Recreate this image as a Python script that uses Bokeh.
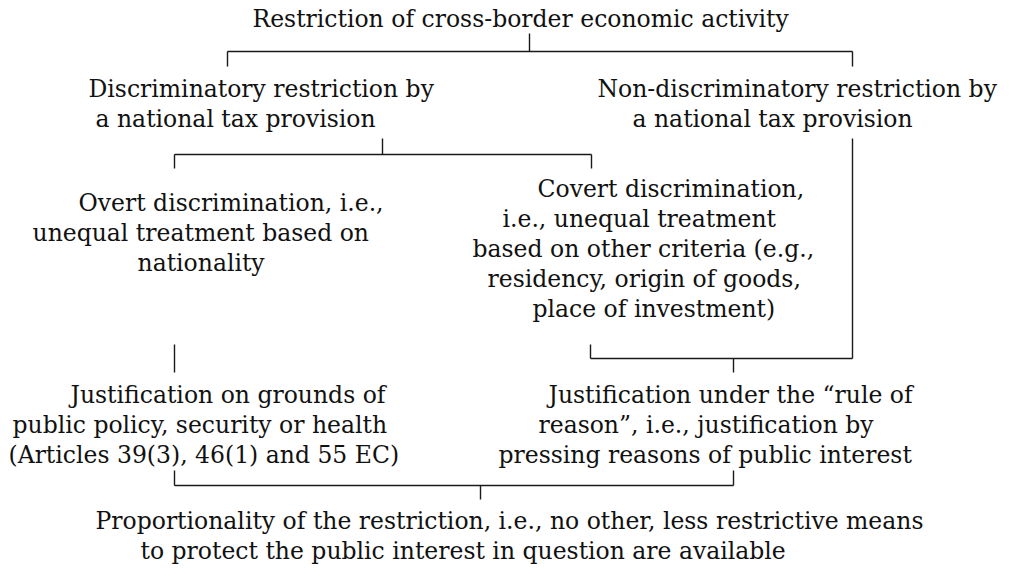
from bokeh.plotting import figure
from bokeh.models import Range1d, ColumnDataSource
from bokeh.core.properties import value
from bokeh.embed import file_html
from bokeh.resources import INLINE

# ---- node texts (one entry per printed line) ----
labels = [
    "Restriction of cross-border economic activity",
    "Discriminatory restriction by",
    "a national tax provision",
    "Non-discriminatory restriction by",
    "a national tax provision",
    "Covert discrimination,",
    "i.e., unequal treatment",
    "based on other criteria (e.g.,",
    "residency, origin of goods,",
    "place of investment)",
    "Overt discrimination, i.e.,",
    "unequal treatment based on",
    "nationality",
    "Justification on grounds of",
    "public policy, security or health",
    "(Articles 39(3), 46(1) and 55 EC)",
    "Justification under the \u201crule of",
    "reason\u201d, i.e., justification by",
    "pressing reasons of public interest",
    "Proportionality of the restriction, i.e., no other, less restrictive means",
    "to protect the public interest in question are available",
]
label_x = [252, 88, 95, 597, 632, 537, 502, 472, 487, 532, 78, 32, 137,
           70, 12, 8, 548, 538, 498, 95, 140]
label_y = [18, 88, 118, 88, 118, 188, 218, 248, 278, 308, 202, 232, 262,
           394, 424, 454, 394, 424, 454, 520, 550]

# ---- connector segments (x0, y0, x1, y1) ----
seg_x0 = [529, 227, 227, 852, 382, 174, 174, 591, 852, 590, 590, 733, 174, 174, 733, 174, 480]
seg_y0 = [33, 51, 51, 51, 138, 154, 154, 154, 138, 358, 344, 358, 344, 470, 470, 485, 485]
seg_x1 = [529, 852, 227, 852, 382, 591, 174, 591, 852, 852, 590, 733, 174, 174, 733, 733, 480]
seg_y1 = [51, 51, 66, 66, 154, 154, 168, 168, 358, 358, 358, 372, 372, 485, 485, 485, 499]

p = figure(width=1001, height=564, output_backend="svg", toolbar_location=None,
           x_range=Range1d(0, 1001), y_range=Range1d(564, 0),
           min_border=0)
p.axis.visible = False
p.grid.visible = False
p.outline_line_color = None
p.background_fill_color = "white"
p.border_fill_color = "white"

p.segment(x0=seg_x0, y0=seg_y0, x1=seg_x1, y1=seg_y1,
          line_color="#1a1a1a", line_width=1.4)

src = ColumnDataSource(dict(x=label_x, y=label_y, t=labels))
p.text(x="x", y="y", text="t", source=src, text_font=value("DejaVu Serif"),
       text_font_size="23.5px", text_align="left", text_baseline="middle",
       text_color="#111111")

open("out.html", "w").write(file_html(p, INLINE))
